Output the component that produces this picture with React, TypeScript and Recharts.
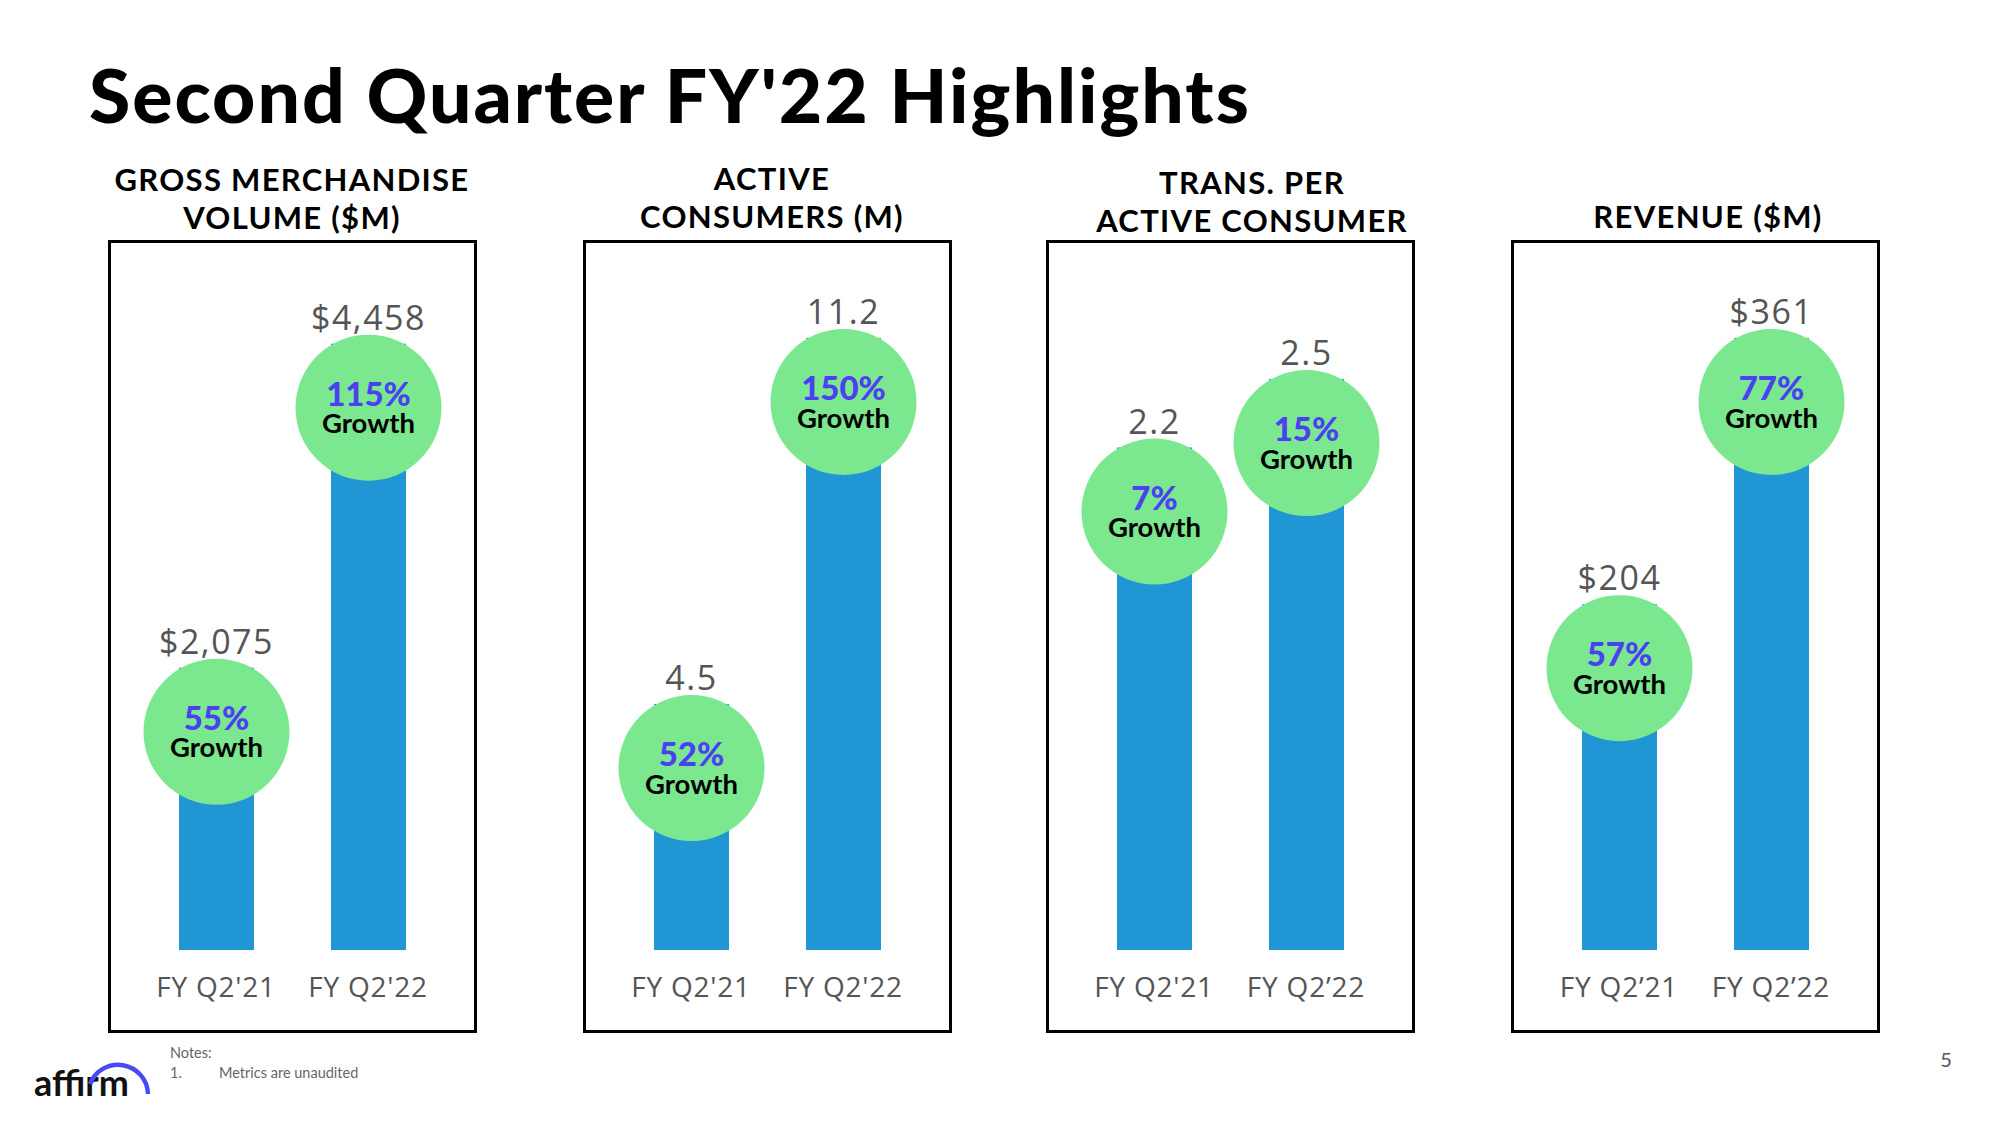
import { BarChart, Bar, XAxis, YAxis, LabelList } from "recharts";

const BLUE = "#2097d4";
const GREEN = "#7be78f";
const PURPLE = "#4b40f2";
const GREY = "#555555";

const PERIODS_A = ["FY Q2'21", "FY Q2'22"];
const PERIODS_B = ["FY Q2'21", "FY Q2\u201922"];
const PERIODS_C = ["FY Q2\u201921", "FY Q2\u201922"];

const GMV = [2075, 4458];
const GMV_GROWTH = ["55%", "115%"];
const CONSUMERS = [4.5, 11.2];
const CONSUMERS_GROWTH = ["52%", "150%"];
const TRANS = [2.2, 2.5];
const TRANS_GROWTH = ["7%", "15%"];
const REVENUE = [204, 361];
const REVENUE_GROWTH = ["57%", "77%"];

const PANEL_W = 369;
const PANEL_H = 793;
const PANEL_TOP = 240;

type PanelProps = {
  left: number;
  categories: string[];
  values: number[];
  growth: string[];
  domainMax: number;
  fmt: (v: number) => string;
};

function Panel({ left, categories, values, growth, domainMax, fmt }: PanelProps) {
  const data = categories.map((name, i) => ({ name, value: values[i] }));

  // value on top, green badge with growth % sitting on the bar end
  const badge = (props: any) => {
    const { x, y, width, index, value } = props;
    const cx = Number(x) + Number(width) / 2;
    const top = Number(y);
    const cy = top + 64;
    return (
      <g>
        <text
          x={cx}
          y={top - 27}
          textAnchor="middle"
          dominantBaseline="central"
          fontFamily="'Open Sans', sans-serif"
          fontSize={34}
          letterSpacing={1.5}
          fill={GREY}
        >
          {fmt(value)}
        </text>
        <circle cx={cx} cy={cy} r={73} fill={GREEN} />
        <text
          x={cx}
          y={cy - 15}
          textAnchor="middle"
          dominantBaseline="central"
          fontFamily="Lato, sans-serif"
          fontWeight={900}
          fontSize={33}
          fill={PURPLE}
        >
          {growth[index]}
        </text>
        <text
          x={cx}
          y={cy + 15}
          textAnchor="middle"
          dominantBaseline="central"
          fontFamily="Lato, sans-serif"
          fontWeight={700}
          fontSize={27.5}
          fill="#000"
        >
          Growth
        </text>
      </g>
    );
  };

  const tick = (props: any) => (
    <text
      x={props.x}
      y={props.y + 36}
      textAnchor="middle"
      dominantBaseline="central"
      fontFamily="'Open Sans', sans-serif"
      fontSize={28}
      letterSpacing={0.8}
      fill={GREY}
    >
      {props.payload.value}
    </text>
  );

  return (
    <div style={{ position: "absolute", left, top: PANEL_TOP, width: PANEL_W, height: PANEL_H }}>
      <BarChart
        width={PANEL_W}
        height={PANEL_H}
        data={data}
        margin={{ top: 98, right: 33, bottom: 33, left: 32 }}
      >
        <XAxis
          dataKey="name"
          axisLine={false}
          tickLine={false}
          tickSize={0}
          tickMargin={0}
          height={50}
          interval={0}
          tick={tick}
        />
        <YAxis hide domain={[0, domainMax]} />
        <Bar dataKey="value" fill={BLUE} barSize={75} isAnimationActive={false}>
          <LabelList dataKey="value" content={badge} />
        </Bar>
      </BarChart>
      <div
        style={{
          position: "absolute",
          inset: 0,
          border: "3px solid #000",
          boxSizing: "border-box",
          pointerEvents: "none",
        }}
      />
    </div>
  );
}

const titleStyle = {
  fontFamily: "Lato, sans-serif",
  fontWeight: 700,
  fontSize: 31,
  letterSpacing: 1.3,
  fill: "#000",
  textAnchor: "middle" as const,
};

export default function App() {
  return (
    <div
      style={{
        position: "absolute",
        left: 0,
        top: 0,
        width: 2000,
        height: 1125,
        background: "#fff",
        overflow: "hidden",
      }}
    >
      <svg width={2000} height={1125} style={{ position: "absolute", left: 0, top: 0 }}>
        <text
          x={89}
          y={123}
          fontFamily="Lato, sans-serif"
          fontWeight={900}
          fontSize={75}
          letterSpacing={2}
          fill="#000"
        >
          Second Quarter FY'22 Highlights
        </text>

        <text x={292} y={191} {...titleStyle}>GROSS MERCHANDISE</text>
        <text x={292} y={229} {...titleStyle}>VOLUME ($M)</text>
        <text x={772} y={190} {...titleStyle}>ACTIVE</text>
        <text x={772} y={228} {...titleStyle}>CONSUMERS (M)</text>
        <text x={1252} y={194} {...titleStyle}>TRANS. PER</text>
        <text x={1252} y={232} {...titleStyle}>ACTIVE CONSUMER</text>
        <text x={1708} y={228} {...titleStyle}>REVENUE ($M)</text>

        {/* logo */}
        <text
          x={34}
          y={1096}
          fontFamily="Lato, sans-serif"
          fontWeight={700}
          fontSize={36}
          fill="#111"
        >
          affirm
        </text>
        <path d="M 90 1084 A 30 30 0 0 1 148 1094" fill="none" stroke="#4a4af4" strokeWidth={4.5} />

        <text x={170} y={1058} fontFamily="Lato, sans-serif" fontSize={14.5} fill="#666">
          Notes:
        </text>
        <text x={170} y={1078} fontFamily="Lato, sans-serif" fontSize={14.5} fill="#666">
          1.
        </text>
        <text x={219} y={1078} fontFamily="Lato, sans-serif" fontSize={14.5} fill="#666">
          Metrics are unaudited
        </text>
        <text x={1946} y={1067} textAnchor="middle" fontFamily="Lato, sans-serif" fontSize={20} fill={GREY}>
          5
        </text>
      </svg>

      <Panel
        left={108}
        categories={PERIODS_A}
        values={GMV}
        growth={GMV_GROWTH}
        domainMax={4500}
        fmt={(v) => "$" + v.toLocaleString("en-US")}
      />
      <Panel
        left={583}
        categories={PERIODS_A}
        values={CONSUMERS}
        growth={CONSUMERS_GROWTH}
        domainMax={11.2}
        fmt={(v) => v.toFixed(1)}
      />
      <Panel
        left={1046}
        categories={PERIODS_B}
        values={TRANS}
        growth={TRANS_GROWTH}
        domainMax={2.68}
        fmt={(v) => v.toFixed(1)}
      />
      <Panel
        left={1511}
        categories={PERIODS_C}
        values={REVENUE}
        growth={REVENUE_GROWTH}
        domainMax={361}
        fmt={(v) => "$" + v}
      />
    </div>
  );
}
